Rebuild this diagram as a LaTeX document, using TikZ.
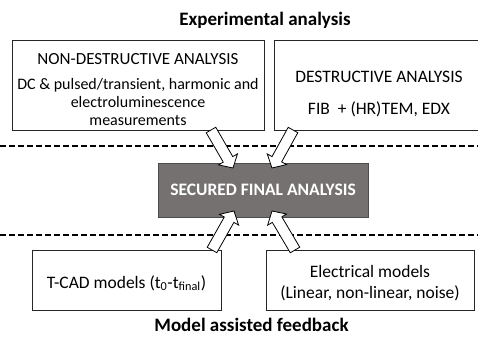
\documentclass[tikz,border=0pt]{standalone}
\usepackage{fontspec}
\setmainfont{Carlito}
\usetikzlibrary{calc, positioning}

\definecolor{finalgray}{HTML}{767171}

% hollow block arrow from #1 to the tip #2
\newcommand{\fatarrow}[2]{%
  \draw[fat] ($(#1)!5.5pt!-90:(#2)$)
    -- ($(#2)!10pt!(#1)!5.5pt!-90:(#2)$)
    -- ($(#2)!10pt!(#1)!11pt!-90:(#2)$)
    -- (#2)
    -- ($(#2)!10pt!(#1)!11pt!90:(#2)$)
    -- ($(#2)!10pt!(#1)!5.5pt!90:(#2)$)
    -- ($(#1)!5.5pt!90:(#2)$) -- cycle;}

\begin{document}
\begin{tikzpicture}[
        x=1pt, y=-1pt,
        box/.style={rectangle, draw=black!85, line width=0.8pt, fill=white, align=center, inner sep=0pt, font=\fontsize{17.5}{21}\selectfont},
        final/.style={rectangle, draw=black!70, line width=0.8pt, fill=finalgray, text=white, inner sep=0pt, font=\fontsize{17.5}{20}\selectfont\bfseries},
        heading/.style={font=\fontsize{19}{22}\selectfont\bfseries, inner sep=0pt, anchor=base},
        sep/.style={line width=1.6pt, dash pattern=on 6pt off 3pt},
        fat/.style={draw=black, line width=0.8pt, fill=white, line join=miter}
    ]
        \useasboundingbox (0,0) rectangle (478,337);

        \node[heading] (exptitle) at (265,25.5) {Experimental analysis};
        \node[box, minimum width=252, minimum height=90, text height=81pt, font=\fontsize{16}{18}\selectfont] (nondest) at (138,85)
            {{\fontsize{17}{18}\selectfont NON-DESTRUCTIVE ANALYSIS}\\[7pt]DC \& pulsed/transient, harmonic and\\electroluminescence\\measurements};
        \node[box, minimum width=210, minimum height=90, text height=62pt] (dest) at (379,85)
            {DESTRUCTIVE ANALYSIS\\[11pt]FIB~~+ (HR)TEM, EDX};

        \draw[sep] (0,146) -- (478,146);

        \node[final, minimum width=210, minimum height=54] (secured) at (263,190) {SECURED FINAL ANALYSIS};

        \draw[sep] (0,235) -- (478,235);

        \node[box, minimum width=189, minimum height=60, text height=19pt] (tcad) at (126.5,280)
            {T-CAD models (t\textsubscript{0}-t\textsubscript{final})};
        \node[box, minimum width=208, minimum height=60, text height=39.5pt] (elec) at (370,280)
            {Electrical models\\(Linear, non-linear, noise)};
        \node[heading] (modtitle) at (251.5,331) {Model assisted feedback};

        % arrow ends
        \coordinate (ndout) at (211,130);
        \coordinate (dout) at (293,130);
        \coordinate (tcout) at (212,250);
        \coordinate (elout) at (295,250);
        \coordinate (inA) at (233,168);
        \coordinate (inB) at (272,168);
        \coordinate (inC) at (234,211);
        \coordinate (inD) at (272,211);

        \fatarrow{ndout}{inA}
        \fatarrow{dout}{inB}
        \fatarrow{tcout}{inC}
        \fatarrow{elout}{inD}
    \end{tikzpicture}
\end{document}
